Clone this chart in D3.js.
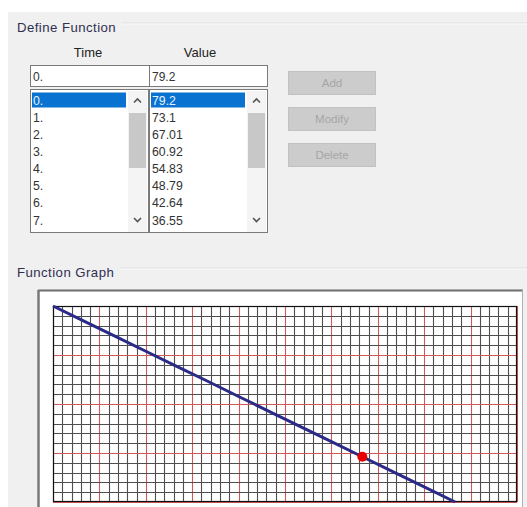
<!DOCTYPE html>
<html><head><meta charset="utf-8">
<script src="https://cdn.jsdelivr.net/npm/d3@7"></script>
<style>
html,body{margin:0;padding:0;background:#fff;}
svg{display:block;}
text{font-family:"Liberation Sans",Arial,sans-serif;}
</style></head>
<body>
<svg id="c" width="527" height="507"></svg>
<script>
// ---- data ----
const times = [0, 1, 2, 3, 4, 5, 6, 7, 8, 9, 10, 11, 12, 13];
const values = [79.2, 73.1, 67.01, 60.92, 54.83, 48.79, 42.64, 36.55, 30.46, 24.37, 18.28, 12.19, 6.1, 0];
const timeLabels = ["0.", "1.", "2.", "3.", "4.", "5.", "6.", "7."];
const valueLabels = ["79.2", "73.1", "67.01", "60.92", "54.83", "48.79", "42.64", "36.55"];
const selectedTime = "0.";
const selectedValue = "79.2";
const markerTime = 10;
const buttons = ["Add", "Modify", "Delete"];
const xDomain = [0, 15];
const yDomain = [0, 79.2];

const svg = d3.select("#c");

// background panel
svg.append("rect").attr("x",0).attr("y",0).attr("width",527).attr("height",507).attr("fill","#ffffff");
svg.append("rect").attr("x",8).attr("y",12).attr("width",519).attr("height",495).attr("fill","#f0f0f0");

// group headers
function groupHeader(label, y, lineX){
  svg.append("line").attr("x1",lineX).attr("x2",527).attr("y1",y-4).attr("y2",y-4).attr("stroke","#dcdcdc");
  svg.append("line").attr("x1",lineX).attr("x2",527).attr("y1",y-3).attr("y2",y-3).attr("stroke","#fafafa");
  svg.append("text").attr("x",17).attr("y",y+4.5).attr("font-size",13.2).attr("letter-spacing",0.45)
     .attr("fill","#2f2f50").text(label);
}
groupHeader("Define Function", 27, 122);
groupHeader("Function Graph", 272, 120);

// column headers
svg.append("text").attr("x",88).attr("y",57).attr("text-anchor","middle").attr("font-size",13).attr("fill","#222").text("Time");
svg.append("text").attr("x",200).attr("y",57).attr("text-anchor","middle").attr("font-size",13).attr("fill","#222").text("Value");

// input row
svg.append("rect").attr("x",30.5).attr("y",65.5).attr("width",237).attr("height",21).attr("fill","#fff").attr("stroke","#7a7a7a");
svg.append("line").attr("x1",149.5).attr("x2",149.5).attr("y1",65.5).attr("y2",86.5).attr("stroke","#7a7a7a");
svg.append("text").attr("x",33).attr("y",81).attr("font-size",12).attr("fill","#333").text(selectedTime);
svg.append("text").attr("x",152).attr("y",81).attr("font-size",12).attr("fill","#333").text(selectedValue);

// list boxes
function listBox(x0, x1, labels, selected){
  const g = svg.append("g");
  g.append("rect").attr("x",x0+0.5).attr("y",89.5).attr("width",x1-x0-1).attr("height",143).attr("fill","#fff").attr("stroke","#7a7a7a");
  const rowY = d3.scaleLinear().domain([0,7]).range([100,220]);
  g.append("rect").attr("x",x0+2).attr("y",rowY(0)-7.5).attr("width",(x1-x0)-25).attr("height",15).attr("fill","#0a72d0");
  g.selectAll("text.row").data(labels).join("text").attr("class","row")
    .attr("x",x0+3).attr("y",(d,i)=>rowY(i)+4.5).attr("font-size",12.3)
    .attr("fill",(d,i)=> i===0 ? "#e8f2ff" : "#333").text(d=>d);
  const sx = x1-21;
  g.append("rect").attr("x",sx).attr("y",91).attr("width",19).attr("height",141).attr("fill","#f4f4f4");
  g.append("rect").attr("x",sx+1).attr("y",113).attr("width",17).attr("height",55).attr("fill","#c8c8c8");
  const cx = sx+9.5;
  g.append("path").attr("d",`M${cx-3.5},${102.5}L${cx},${99}L${cx+3.5},${102.5}`).attr("fill","none").attr("stroke","#555").attr("stroke-width",1.6);
  g.append("path").attr("d",`M${cx-3.5},${218}L${cx},${221.5}L${cx+3.5},${218}`).attr("fill","none").attr("stroke","#555").attr("stroke-width",1.6);
}
listBox(30, 149, timeLabels, selectedTime);
listBox(149, 268, valueLabels, selectedValue);

// buttons
const by = d3.scaleLinear().domain([0,2]).range([71,143]);
buttons.forEach((b,i)=>{
  svg.append("rect").attr("x",288.5).attr("y",by(i)+0.5).attr("width",87).attr("height",23).attr("fill","#cccccc").attr("stroke","#c2c2c2");
  svg.append("text").attr("x",332).attr("y",by(i)+16).attr("text-anchor","middle").attr("font-size",11.5).attr("fill","#a6a6a6").text(b);
});

// graph outer box
svg.append("rect").attr("x",38).attr("y",290).attr("width",485).attr("height",230).attr("fill","#fff");
svg.append("line").attr("x1",38).attr("x2",523).attr("y1",290.5).attr("y2",290.5).attr("stroke","#6d6d6d").attr("stroke-width",2);
svg.append("line").attr("x1",38.5).attr("x2",38.5).attr("y1",290).attr("y2",507).attr("stroke","#7a7a7a").attr("stroke-width",2.5);
svg.append("line").attr("x1",522.5).attr("x2",522.5).attr("y1",290).attr("y2",507).attr("stroke","#b0b0b0");

// plot
const L=53, R=517, T=306, B=502;
const x = d3.scaleLinear().domain(xDomain).range([L,R]);
const y = d3.scaleLinear().domain(yDomain).range([B,T]);
const xMinor = d3.range(0,51).map(i=> xDomain[0] + i*(xDomain[1]-xDomain[0])/50);
const yMinor = d3.range(0,21).map(i=> yDomain[0] + i*(yDomain[1]-yDomain[0])/20);
const grid = svg.append("g");
grid.selectAll("line.vx").data(xMinor).join("line")
  .attr("x1",d=>Math.round(x(d))+0.5).attr("x2",d=>Math.round(x(d))+0.5).attr("y1",T).attr("y2",B)
  .attr("stroke",(d,i)=> i%5===0 ? "#cf5858" : "#4e4e4e").attr("stroke-width",1.1);
grid.selectAll("line.hy").data(yMinor).join("line")
  .attr("y1",d=>Math.round(y(d))+0.5).attr("y2",d=>Math.round(y(d))+0.5).attr("x1",L).attr("x2",R)
  .attr("stroke",(d,i)=> i%5===0 ? "#cf5858" : "#4e4e4e").attr("stroke-width",1.1);
svg.append("rect").attr("x",L+0.5).attr("y",T+0.5).attr("width",R-L-1).attr("height",B-T-1).attr("fill","none").attr("stroke","#111").attr("stroke-width",1.2);

// function line
const pts = times.map((t,i)=>[t, values[i]]);
svg.append("path").datum(pts)
  .attr("d", d3.line().x(d=>x(d[0])).y(d=>y(d[1])))
  .attr("fill","none").attr("stroke","#2a2a88").attr("stroke-width",3);

// marker
svg.append("circle").attr("cx",x(markerTime)).attr("cy",y(values[times.indexOf(markerTime)])).attr("r",5).attr("fill","#e60000");
</script>
</body></html>
